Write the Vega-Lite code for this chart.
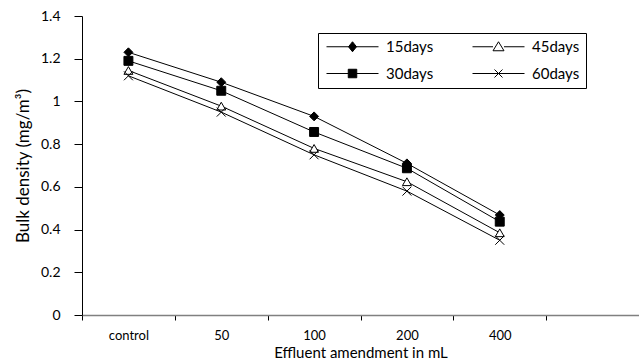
{
  "$schema": "https://vega.github.io/schema/vega-lite/v6.json",
  "width": 557,
  "height": 299,
  "autosize": {"type": "none"},
  "padding": {"left": 82, "top": 16, "right": 0, "bottom": 48},
  "background": "white",
  "config": {
    "font": "Lato",
    "view": {"stroke": null},
    "axis": {"labelColor": "black", "titleColor": "black", "tickColor": "black", "labelFont": "Lato", "titleFont": "Lato", "titleFontWeight": "normal"}
  },
  "data": {
    "values": [
      {"amount": "control", "series": "15days", "value": 1.23},
      {"amount": "50", "series": "15days", "value": 1.09},
      {"amount": "100", "series": "15days", "value": 0.93},
      {"amount": "200", "series": "15days", "value": 0.71},
      {"amount": "400", "series": "15days", "value": 0.468},
      {"amount": "control", "series": "30days", "value": 1.19},
      {"amount": "50", "series": "30days", "value": 1.05},
      {"amount": "100", "series": "30days", "value": 0.857},
      {"amount": "200", "series": "30days", "value": 0.687},
      {"amount": "400", "series": "30days", "value": 0.437},
      {"amount": "control", "series": "45days", "value": 1.145},
      {"amount": "50", "series": "45days", "value": 0.978},
      {"amount": "100", "series": "45days", "value": 0.78},
      {"amount": "200", "series": "45days", "value": 0.624},
      {"amount": "400", "series": "45days", "value": 0.385},
      {"amount": "control", "series": "60days", "value": 1.12},
      {"amount": "50", "series": "60days", "value": 0.95},
      {"amount": "100", "series": "60days", "value": 0.75},
      {"amount": "200", "series": "60days", "value": 0.58},
      {"amount": "400", "series": "60days", "value": 0.35}
    ]
  },
  "encoding": {
    "x": {
      "field": "amount",
      "type": "nominal",
      "scale": {"type": "band", "domain": ["control", "50", "100", "200", "400", "_"], "paddingInner": 0, "paddingOuter": 0},
      "axis": {
        "title": "Effluent amendment in mL",
        "titleFontSize": 15,
        "titlePadding": 3,
        "labelAngle": 0,
        "labelFontSize": 13,
        "labelPadding": 9,
        "tickBand": "extent",
        "tickSize": 5,
        "domainColor": "#808080",
        "domainWidth": 1.5,
        "labelExpr": "datum.value == '_' ? '' : datum.value"
      }
    },
    "y": {
      "field": "value",
      "type": "quantitative",
      "scale": {"domain": [0, 1.4], "nice": false},
      "axis": {
        "title": "Bulk density (mg/m³)",
        "titleFontSize": 17,
        "titlePadding": 8,
        "values": [0, 0.2, 0.4, 0.6, 0.8, 1, 1.2, 1.4],
        "format": "~g",
        "grid": false,
        "labelFontSize": 14,
        "tickSize": 8,
        "labelPadding": 14,
        "domainColor": "black"
      }
    }
  },
  "layer": [
    {
      "mark": {"type": "line", "color": "black", "strokeWidth": 1},
      "encoding": {"detail": {"field": "series"}}
    },
    {
      "mark": {"type": "point", "stroke": "black", "strokeWidth": 1, "size": 80, "opacity": 1},
      "encoding": {
        "shape": {
          "field": "series",
          "type": "nominal",
          "scale": {"domain": ["60days", "45days", "30days", "15days"], "range": ["M-1,-1L1,1M-1,1L1,-1", "triangle-up", "square", "diamond"]},
          "legend": null
        },
        "fill": {
          "field": "series",
          "type": "nominal",
          "scale": {"domain": ["15days", "30days", "45days", "60days"], "range": ["black", "black", "white", "white"]},
          "legend": {
            "title": null,
            "orient": "none",
            "legendX": 236,
            "legendY": 17,
            "columns": 2,
            "strokeColor": "black",
            "fillColor": "white",
            "padding": 6,
            "rowPadding": 11,
            "columnPadding": 36,
            "labelFontSize": 15,
            "labelFont": "Lato",
            "labelColor": "black",
            "symbolSize": 100,
            "symbolOffset": 21,
            "labelOffset": 26,
            "symbolStrokeColor": "black",
            "symbolStrokeWidth": 1,
            "symbolOpacity": 1,
            "encode": {
              "symbols": {
                "update": {
                  "shape": {"signal": "datum.value === '15days' ? 'M-5.2,0H5.2M0,-1L0.8,0L0,1L-0.8,0Z' : datum.value === '30days' ? 'M-5.2,0H5.2M-0.85,-0.85H0.85V0.85H-0.85Z' : datum.value === '45days' ? 'M-5.2,0H-1.1M1.1,0H5.2M0,-1L1.1,0.8L-1.1,0.8Z' : 'M-5.2,0H5.2M-0.8,-0.8L0.8,0.8M-0.8,0.8L0.8,-0.8'"},
                  "stroke": {"value": "black"},
                  "strokeWidth": {"value": 1}
                }
              }
            }
          }
        }
      }
    }
  ]
}
